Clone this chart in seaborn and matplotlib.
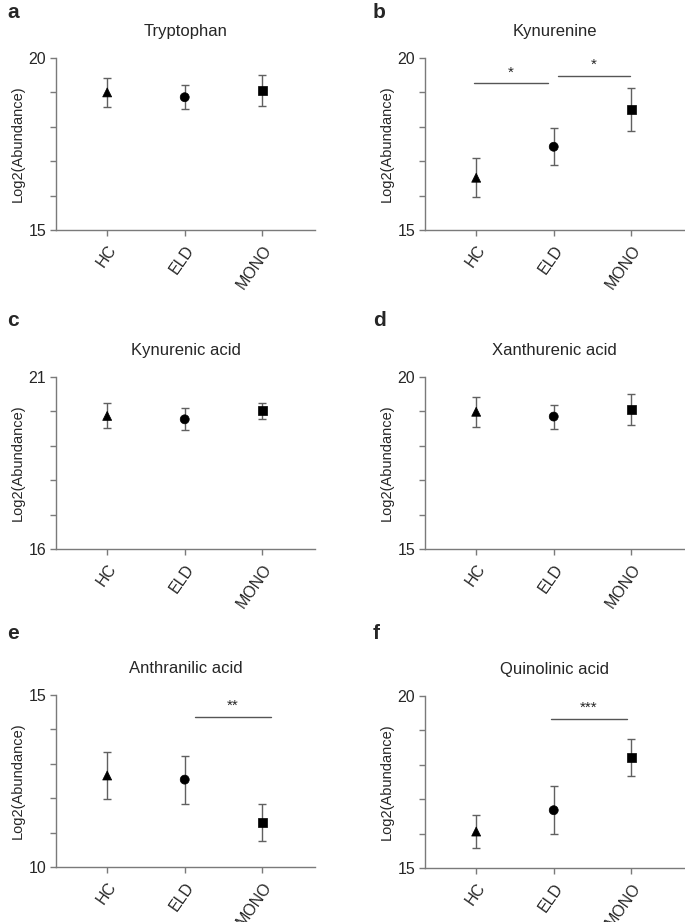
import matplotlib
matplotlib.use("Agg")
import matplotlib.pyplot as plt
import seaborn as sns
import pandas as pd
import numpy as np

sns.set_style("ticks")
plt.rcParams['font.family'] = ['Liberation Sans', 'DejaVu Sans']

groups = ["HC", "ELD", "MONO"]
markers = {"HC": "^", "ELD": "o", "MONO": "s"}

titles = ["Tryptophan", "Kynurenine", "Kynurenic acid", "Xanthurenic acid",
          "Anthranilic acid", "Quinolinic acid"]
letters = ["a", "b", "c", "d", "e", "f"]
ylims = [(15, 20), (15, 20), (16, 21), (15, 20), (10, 15), (15, 20)]

trp_mean = [19.00, 18.86, 19.05]
trp_err = [0.43, 0.35, 0.45]
kyn_mean = [16.52, 17.42, 18.50]
kyn_err = [0.57, 0.54, 0.62]
kyna_mean = [19.87, 19.77, 20.02]
kyna_err = [0.36, 0.32, 0.23]
xa_mean = [18.99, 18.85, 19.06]
xa_err = [0.43, 0.35, 0.45]
aa_mean = [12.66, 12.54, 11.30]
aa_err = [0.67, 0.70, 0.53]
qa_mean = [16.06, 16.68, 18.22]
qa_err = [0.48, 0.70, 0.54]

means = [trp_mean, kyn_mean, kyna_mean, xa_mean, aa_mean, qa_mean]
errs = [trp_err, kyn_err, kyna_err, xa_err, aa_err, qa_err]

# significance brackets: (panel, x_start, x_end, y, label)
sig = [
    (1, -0.03, 0.92, 19.26, "*"),
    (1, 1.05, 1.99, 19.48, "*"),
    (4, 1.13, 2.11, 14.35, "**"),
    (5, 0.96, 1.95, 19.33, "***"),
]

W, H = 685, 922
boxes = [
    (56, 58, 315, 230), (425, 58, 684, 230),
    (56, 377, 315, 549), (425, 377, 684, 549),
    (56, 695, 315, 867), (425, 696, 684, 868),
]
letter_pos = [(7, 13), (373, 13), (7, 320), (373, 320), (7, 633), (373, 633)]

fig = plt.figure(figsize=(W / 100, H / 100), dpi=100)
spine_col = "#7a7a7a"
err_col = "#606060"

for i in range(6):
    l, t, r, b = boxes[i]
    ax = fig.add_axes([l / W, 1 - b / H, (r - l) / W, (b - t) / H])
    df = pd.DataFrame({"group": groups, "value": means[i], "err": errs[i]})
    ax.errorbar(x=np.arange(3), y=df["value"], yerr=df["err"], fmt="none",
                ecolor=err_col, elinewidth=1.0, capsize=3, capthick=1.0, zorder=2)
    sns.scatterplot(data=df, x="group", y="value", style="group", markers=markers,
                    color="black", s=42, edgecolor="black", linewidth=0.5,
                    legend=False, ax=ax, zorder=3)
    ax.set_xlim(-0.66, 2.68)
    lo, hi = ylims[i]
    ax.set_ylim(lo, hi)
    ax.set_yticks(np.arange(lo, hi + 1))
    ax.set_yticklabels([str(lo)] + [""] * 4 + [str(hi)])
    ax.set_xticks([0, 1, 2])
    ax.set_xticklabels(groups, rotation=55, ha="right", rotation_mode="anchor")
    ax.tick_params(axis="both", direction="out", length=4, width=1,
                   color=spine_col, labelsize=11.5, pad=3)
    ax.tick_params(axis="x", pad=5)
    for s in ["top", "right"]:
        ax.spines[s].set_visible(False)
    for s in ["left", "bottom"]:
        ax.spines[s].set_color(spine_col)
        ax.spines[s].set_linewidth(1)
    ax.set_xlabel("")
    ax.set_ylabel("Log2(Abundance)", fontsize=10.5, labelpad=3)
    ax.set_title(titles[i], fontsize=12, pad=16)
    fig.text(letter_pos[i][0] / W, 1 - letter_pos[i][1] / H, letters[i],
             fontsize=15, fontweight="bold", va="center", ha="left")

for (p, x0, x1, y, lab) in sig:
    ax = fig.axes[p]
    ax.plot([x0, x1], [y, y], color="#555555", lw=1, clip_on=False)
    ax.text((x0 + x1) / 2, y + 0.12, lab, ha="center", va="bottom", fontsize=11)

fig.savefig("out.png", dpi=100)
